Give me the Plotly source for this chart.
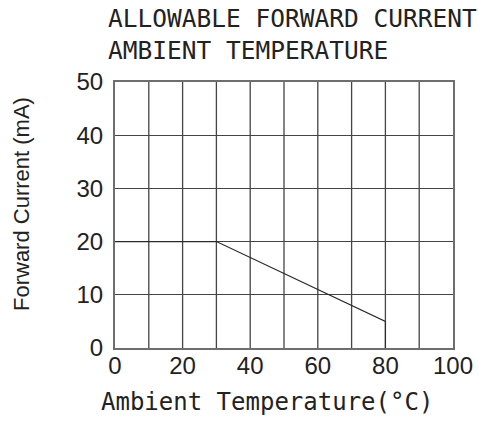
import plotly.graph_objects as go

temps = [0, 30, 80, 80]
currents = [20, 20, 5, 0]
x_ticks = [0, 20, 40, 60, 80, 100]
y_ticks = [0, 10, 20, 30, 40, 50]

grid_color = "#444444"
frame_color = "#6e6e6e"
text_color = "#222222"

# plot area in page px: x 115..453, y 82..348
PX0, PX1, PY0, PY1 = 115, 453, 82, 348
def px(x):
    return (x - PX0) / (PX1 - PX0)
def py(y):
    return (PY1 - y) / (PY1 - PY0)

fig = go.Figure()
for v in range(10, 100, 10):
    fig.add_vline(x=v, line=dict(color=grid_color, width=1.3), layer="below")
fig.add_trace(go.Scatter(x=temps, y=currents, mode="lines",
                         line=dict(color="#2a2a2a", width=1.1), showlegend=False,
                         cliponaxis=False, hoverinfo="skip"))

fig.update_layout(
    width=479, height=421,
    margin=dict(l=PX0, r=479 - PX1, t=PY0, b=421 - PY1, autoexpand=False),
    paper_bgcolor="white", plot_bgcolor="white",
    annotations=[
        dict(text="ALLOWABLE FORWARD CURRENT<br>AMBIENT TEMPERATURE",
             xref="paper", yref="paper", x=px(106), y=py(2),
             xanchor="left", yanchor="top", align="left", showarrow=False,
             font=dict(family="DejaVu Sans Mono", size=24.5, color=text_color)),
        dict(text="Ambient Temperature(°C)",
             xref="paper", yref="paper", x=px(267), y=py(402),
             xanchor="center", yanchor="middle", showarrow=False,
             font=dict(family="DejaVu Sans Mono", size=24, color=text_color)),
        dict(text="Forward Current (mA)", textangle=-90,
             xref="paper", yref="paper", x=px(21), y=py(204),
             xanchor="center", yanchor="middle", showarrow=False,
             font=dict(family="Liberation Sans", size=22, color=text_color)),
    ],
)
fig.update_xaxes(range=[0, 100], tickvals=x_ticks, ticktext=[str(v) for v in x_ticks],
                 showgrid=False, showline=True, linecolor=frame_color, linewidth=2,
                 mirror=True, ticks="", zeroline=False, automargin=False,
                 ticklabelstandoff=-5,
                 tickfont=dict(family="Liberation Sans", size=24, color=text_color))
fig.update_yaxes(range=[0, 50], tickvals=y_ticks, showgrid=True, gridcolor=grid_color, gridwidth=1.3,
                 showline=True, linecolor=frame_color, linewidth=2, mirror=True, ticks="",
                 zeroline=False, ticklabelstandoff=5, automargin=False,
                 tickfont=dict(family="Liberation Sans", size=24, color=text_color))

fig.write_html("out.html", config={"displayModeBar": False},
               post_script="document.body.style.margin='0';document.body.style.overflow='hidden';")
